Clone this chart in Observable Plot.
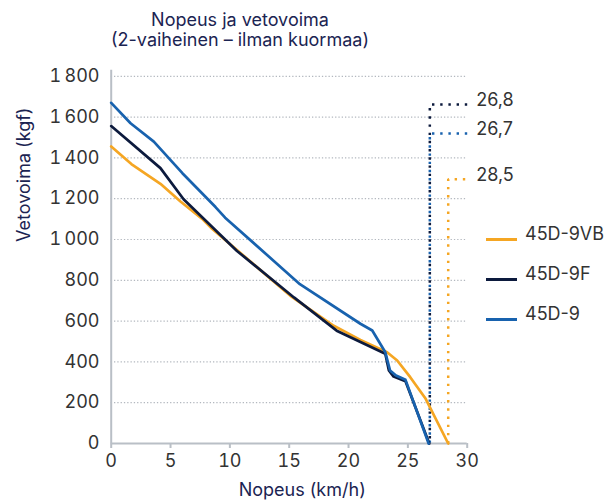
<!DOCTYPE html>
<html>
<head>
<meta charset="utf-8">
<script src="https://cdn.jsdelivr.net/npm/d3@7"></script>
<script src="https://cdn.jsdelivr.net/npm/@observablehq/plot@0.6"></script>
<style>
  html, body { margin: 0; padding: 0; background: #fff; }
  body { width: 614px; height: 502px; position: relative; overflow: hidden; font-family: Inter, "Noto Sans", sans-serif; }
  #title { position: absolute; left: 0; top: 10px; width: 480px; text-align: center; color: #1b2452; font-size: 18px; line-height: 20px; }
  #chart { position: absolute; left: 0; top: 56px; }
  .leg { position: absolute; left: 486px; }
  .sw { position: absolute; left: 0; width: 31px; height: 3px; }
  .lt { position: absolute; left: 39px; white-space: nowrap; color: #333; font-size: 18px; line-height: 20px; }
</style>
</head>
<body>
<div id="title">Nopeus ja vetovoima<br>(2-vaiheinen – ilman kuormaa)</div>
<div id="chart"></div>
<div id="legend"></div>
<script>
// ---- data ----
const seriesNames = ["45D-9VB", "45D-9F", "45D-9"];
const seriesColors = ["#f5a623", "#0c1a3d", "#1862ae"];

const speed9VB = [0, 1.7, 4.15, 5.84, 7.67, 8.4, 15.1, 18.75, 21.0, 23.25, 24.1, 25.2, 26.5, 28.4];
const force9VB = [1456, 1370, 1273, 1186, 1101, 1058, 724, 577, 508, 447, 407, 325, 219, 0];

const speed9F = [0, 4.15, 6.1, 10.6, 15.4, 19.0, 23.1, 23.4, 23.8, 24.8, 26.8];
const force9F = [1556, 1350, 1197, 944, 716, 553, 440, 358, 328, 305, 0];

const speed9 = [0, 1.63, 3.59, 6.0, 8.79, 9.6, 15.9, 21.0, 22.0, 23.1, 23.5, 24.0, 24.8, 26.75];
const force9 = [1670, 1570, 1480, 1325, 1159, 1107, 781, 587, 554, 447, 358, 333, 312, 0];

// max speed annotations
const maxSpeedPos = [28.4, 26.85, 26.85];
const maxLabelForce = [1295, 1662, 1520];
const maxLabels = ["28,5", "26,8", "26,7"];

const xTicks = [0, 5, 10, 15, 20, 25, 30];
const yTicks = [0, 200, 400, 600, 800, 1000, 1200, 1400, 1600, 1800];
const gridValues = [200, 400, 600, 800, 1000, 1200, 1400, 1600, 1800];

// ---- build tables ----
const speeds = [speed9VB, speed9F, speed9];
const forces = [force9VB, force9F, force9];
const rows = [];
seriesNames.forEach((name, i) => {
  speeds[i].forEach((s, j) => rows.push({series: name, speed: s, force: forces[i][j]}));
});
const dotRows = [];
seriesNames.forEach((name, i) => {
  dotRows.push({series: name, speed: maxSpeedPos[i], force: 0});
  dotRows.push({series: name, speed: maxSpeedPos[i], force: maxLabelForce[i]});
  dotRows.push({series: name, speed: 30, force: maxLabelForce[i]});
});
const labelRows = seriesNames.map((name, i) => ({series: name, speed: 30, force: maxLabelForce[i], label: maxLabels[i]}));

const loc = d3.formatLocale({decimal: ",", thousands: "\u2009", grouping: [3]});
const fmt = loc.format(",");

const dotStyle = {x: "speed", y: "force", z: "series", stroke: "series", strokeWidth: 2.5, strokeDasharray: "2.4,5.8", strokeLinecap: "butt", strokeLinejoin: "miter"};

const chart = Plot.plot({
  width: 614,
  height: 446,
  marginLeft: 110.7,
  marginRight: 147.3,
  marginTop: 19.8,
  marginBottom: 59,
  style: {fontFamily: "Inter, 'Noto Sans', sans-serif", fontSize: "18px", background: "transparent", overflow: "visible"},
  x: {domain: [0, 30]},
  y: {domain: [0, 1800]},
  color: {domain: seriesNames, range: seriesColors},
  marks: [
    Plot.ruleY(gridValues, {stroke: "#b3b8bf", strokeWidth: 1.2, strokeDasharray: "1.3,2"}),
    Plot.ruleX([0], {y1: 0, y2: 1830, stroke: "#b9bfc6", strokeWidth: 2}),
    Plot.ruleY([0], {stroke: "#b9bfc6", strokeWidth: 2}),
    Plot.axisX({ticks: xTicks, tickSize: 5, tickPadding: 6, stroke: "#b9bfc6", strokeWidth: 2, fill: "#333", fontSize: 18, label: null}),
    Plot.axisY({ticks: yTicks, tickSize: 0, tickPadding: 11.7, tickFormat: fmt, fill: "#333", fontSize: 18, label: null}),
    Plot.line(dotRows.filter(d => d.series !== "45D-9VB").reverse(), dotStyle),
    Plot.line(dotRows.filter(d => d.series === "45D-9VB"), dotStyle),
    Plot.line(rows, {x: "speed", y: "force", z: "series", stroke: "series", strokeWidth: 2.7, strokeLinejoin: "round"}),
    Plot.text(labelRows, {x: "speed", y: "force", text: "label", textAnchor: "start", dx: 9, dy: -4, fill: "#333", fontSize: 18}),
    Plot.text(["Nopeus (km/h)"], {frameAnchor: "bottom", dx: 13, dy: 52, fill: "#1b2452", fontSize: 18}),
    Plot.text(["Vetovoima (kgf)"], {frameAnchor: "left", rotate: -90, dx: -87, dy: -18, fill: "#1b2452", fontSize: 18})
  ]
});
document.getElementById("chart").appendChild(chart);

// ---- legend ----
const legendTops = [239, 279, 319];
const legend = document.getElementById("legend");
seriesNames.forEach((name, i) => {
  const row = document.createElement("div");
  row.className = "leg";
  row.style.top = legendTops[i] + "px";
  const sw = document.createElement("div");
  sw.className = "sw";
  sw.style.top = "-1.5px";
  sw.style.background = seriesColors[i];
  const t = document.createElement("div");
  t.className = "lt";
  t.style.top = "-15px";
  t.textContent = name;
  row.appendChild(sw);
  row.appendChild(t);
  legend.appendChild(row);
});
</script>
</body>
</html>
